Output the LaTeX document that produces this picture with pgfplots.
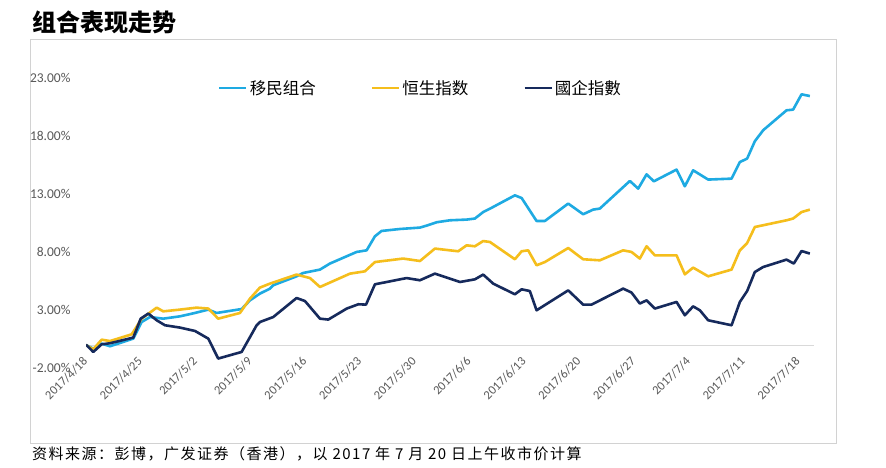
\documentclass[border=0pt]{standalone}
\usepackage{fontspec}
\setmainfont{Carlito}
\newfontfamily\cjk{Noto Sans CJK SC}
\newfontfamily\cjkls[LetterSpace=10]{Noto Sans CJK SC}
\usepackage{pgfplots}
\pgfplotsset{compat=1.18}
\definecolor{cblue}{RGB}{30,170,226}
\definecolor{cyellow}{RGB}{245,190,28}
\definecolor{cnavy}{RGB}{22,42,92}
\definecolor{tickgray}{RGB}{89,89,89}
\begin{document}
\begin{tikzpicture}
\useasboundingbox (0pt,0pt) rectangle (886pt,467pt);
\fill[white] (0pt,0pt) rectangle (886pt,467pt);
\draw[gray!35, line width=1pt] (30pt,24pt) rectangle (836pt,427pt);
\node[anchor=west, inner sep=0] at (32pt,445pt) {\cjk\bfseries\fontsize{24}{28}\selectfont 组合表现走势};
\node[anchor=west, inner sep=0] at (32pt,13pt) {\cjkls\fontsize{15}{17}\selectfont 资料来源：彭博，广发证券（香港），以 2017 年 7 月 20 日上午收市价计算};
\begin{axis}[
  at={(86pt,98.7pt)}, anchor=south west, scale only axis, width=728pt, height=290pt,
  xmin=0, xmax=93, ymin=-2, ymax=23,
  axis x line*=middle, axis y line*=left,
  hide obscured x ticks=false,
  x axis line style={draw=gray!30, line width=0.8pt},
  y axis line style={draw=none},
  ytick={-2,3,8,13,18,23}, xtick={0,7,...,91},
  xticklabels={2017/4/18,2017/4/25,2017/5/2,2017/5/9,2017/5/16,2017/5/23,2017/5/30,2017/6/6,2017/6/13,2017/6/20,2017/6/27,2017/7/4,2017/7/11,2017/7/18},
  major tick length=0pt,
  /pgf/number format/assume math mode=true,
  yticklabel={\pgfmathprintnumber[fixed,fixed zerofill,precision=2]{\tick}\%},
  yticklabel style={font=\fontsize{13.5}{15}\selectfont, text=tickgray, anchor=east, xshift=-12pt},
  xticklabel style={font=\fontsize{12.5}{14}\selectfont, text=tickgray, xshift=-4pt, yshift=-6pt, rotate=45, anchor=north east},
  legend columns=3,
  legend style={at={(0.1813,0.9666)}, anchor=west, draw=none, fill=none, inner sep=0pt,
    font=\cjk\fontsize{16.5}{18}\selectfont,
    /tikz/every even column/.append style={column sep=53pt}},
  legend image code/.code={\draw[#1] (0pt,0pt) -- (27pt,0pt);},
  every axis plot/.append style={line width=2.6pt, line join=round},
]
\addplot[cblue] coordinates {(0,0) (0.93,-0.3) (2.0,0.13) (3.07,-0.1) (6.04,0.56) (7.11,1.99) (8.17,2.42) (9.87,2.28) (12.0,2.48) (13.92,2.77) (15.62,3.06) (16.69,2.77) (19.88,3.11) (20.95,3.86) (22.22,4.44) (23.5,4.87) (23.92,5.16) (26.9,5.93) (27.75,6.22) (29.89,6.51) (31.16,7.03) (34.57,8.03) (35.85,8.17) (36.91,9.38) (37.76,9.84) (40.1,10.01) (42.66,10.13) (43.51,10.3) (44.79,10.59) (46.49,10.76) (48.62,10.82) (49.68,10.91) (50.74,11.47) (51.6,11.76) (54.79,12.91) (55.65,12.68) (57.56,10.7) (58.62,10.7) (61.6,12.2) (63.51,11.28) (64.79,11.68) (65.64,11.77) (69.48,14.15) (70.54,13.49) (71.61,14.72) (72.54,14.12) (75.44,15.13) (76.5,13.69) (77.56,15.07) (79.48,14.27) (82.47,14.35) (83.53,15.78) (84.46,16.08) (85.44,17.57) (86.5,18.52) (89.49,20.24) (90.33,20.3) (91.41,21.62) (92.47,21.47)};
\addlegendentry{移民组合}
\addplot[cyellow] coordinates {(0,0) (0.93,-0.36) (2.0,0.47) (3.07,0.35) (5.84,0.93) (7.11,2.28) (9.03,3.23) (9.87,2.91) (12.0,3.06) (14.13,3.23) (15.62,3.15) (16.89,2.28) (19.67,2.77) (20.95,4.01) (22.22,4.96) (23.5,5.3) (26.9,6.08) (28.61,5.78) (29.89,5.01) (33.72,6.16) (35.63,6.36) (36.91,7.16) (40.52,7.46) (42.66,7.25) (44.57,8.32) (46.49,8.17) (47.55,8.09) (48.62,8.6) (49.68,8.52) (50.74,8.97) (51.6,8.89) (54.79,7.4) (55.65,8.09) (56.49,8.17) (57.56,6.88) (58.62,7.16) (61.6,8.37) (63.51,7.4) (65.64,7.31) (68.62,8.17) (69.69,8.03) (70.75,7.46) (71.61,8.52) (72.67,7.74) (75.44,7.74) (76.5,6.1) (77.56,6.68) (79.48,5.93) (82.47,6.51) (83.53,8.17) (84.46,8.8) (85.44,10.18) (89.49,10.76) (90.33,10.91) (91.41,11.47) (92.47,11.68)};
\addlegendentry{恒生指数}
\addplot[cnavy] coordinates {(0,0.04) (0.93,-0.59) (2.0,0.07) (3.07,0.16) (6.04,0.65) (6.99,2.28) (7.96,2.72) (9.03,2.14) (10.09,1.71) (12.0,1.51) (13.92,1.22) (15.62,0.56) (16.89,-1.16) (19.88,-0.59) (21.8,1.71) (22.22,1.99) (23.92,2.42) (26.9,4.06) (27.97,3.8) (29.89,2.28) (30.95,2.2) (33.31,3.15) (34.79,3.52) (35.77,3.49) (36.91,5.24) (40.96,5.78) (42.66,5.59) (44.57,6.16) (46.49,5.73) (47.77,5.44) (49.68,5.67) (50.74,6.08) (52.02,5.3) (54.79,4.38) (55.65,4.81) (56.7,4.66) (57.56,3.0) (61.6,4.72) (63.51,3.49) (64.58,3.49) (68.62,4.87) (69.69,4.53) (70.75,3.58) (71.61,3.86) (72.67,3.15) (75.44,3.72) (76.5,2.57) (77.56,3.34) (78.42,3.0) (79.48,2.14) (82.47,1.71) (83.53,3.72) (84.46,4.66) (85.44,6.3) (86.5,6.73) (89.49,7.37) (90.42,7.03) (91.41,8.11) (92.47,7.89)};
\addlegendentry{國企指數}
\end{axis}
\end{tikzpicture}
\end{document}
